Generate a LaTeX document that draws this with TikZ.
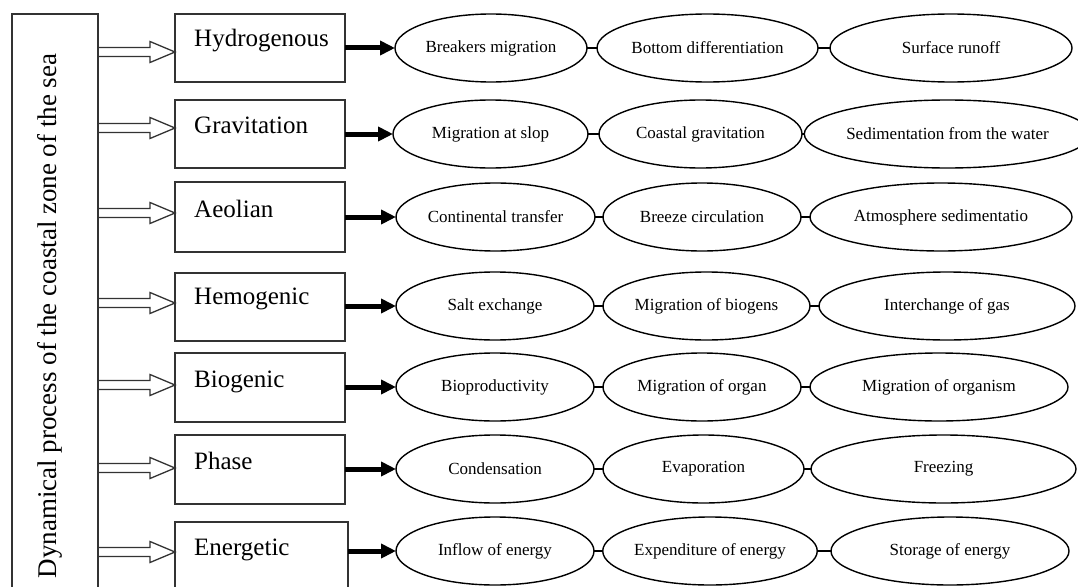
\documentclass[tikz,border=0pt]{standalone}
\usepackage{fontspec}
\setmainfont{Liberation Serif}
\usetikzlibrary{shapes.geometric,arrows.meta,calc}
\tikzset{
  procbox/.style={draw=black!80, line width=1.4pt, anchor=north west, minimum width=170pt, inner sep=0pt, outer sep=0pt},
  boxtext/.style={anchor=base west, font=\fontsize{25}{28}\selectfont, inner sep=0pt},
  oval/.style={ellipse, draw=black, line width=1.4pt, inner sep=0pt, outer sep=0pt, minimum height=68pt, font=\fontsize{17}{20}\selectfont},
  hollow/.style={draw=black!80, line width=1.3pt},
  feed/.style={line width=5pt, -{Triangle[length=15pt,width=14pt]}},
  link/.style={line width=1.2pt}
}
\newcommand\hollowarrow[2]{%
  \draw[hollow] ($(#1)+(0,-4.5)$) -- ($(#2)+(-25,-4.5)$) -- ($(#2)+(-25,-10.5)$) -- (#2)
    -- ($(#2)+(-25,10.5)$) -- ($(#2)+(-25,4.5)$) -- ($(#1)+(0,4.5)$);}
\begin{document}
\begin{tikzpicture}[x=1pt,y=-1pt]
\useasboundingbox (0,0) rectangle (1078,586);
\fill[white] (0,0) rectangle (1078,586);
\clip (0,0) rectangle (1078,586);

% left box
\node[draw=black!80, line width=1.4pt, anchor=north west, minimum width=86pt, minimum height=600pt, inner sep=0pt, outer sep=0pt] (L) at (12,14) {};
\node[rotate=90, anchor=base, inner sep=0pt, font=\fontsize{27}{30}\selectfont] (title) at (56,316) {Dynamical process of the coastal zone of the sea};

% ---- row 1
\node[procbox, minimum height=68pt] (b1) at (175,14) {};
\node[boxtext] (t1) at ([shift={(19,33)}]b1.north west) {Hydrogenous};
\path (b1.north west) ++(0,38) coordinate (b1in);
\path (L.east |- b1in) coordinate (b1out);
\hollowarrow{b1out}{b1in}
\node[oval, minimum width=192pt] (e11) at (491,48) {Breakers migration};
\node[oval, minimum width=221pt] (e12) at (707.5,48) {Bottom differentiation};
\node[oval, minimum width=242pt] (e13) at (951,48) {Surface runoff};
\draw[feed] (b1.east |- e11.west) -- (e11.west);
\draw[link] (e11.east) -- (e12.west);
\draw[link] (e12.east) -- (e13.west);

% ---- row 2
\node[procbox, minimum height=68pt] (b2) at (175,100) {};
\node[boxtext] (t2) at ([shift={(19,33)}]b2.north west) {Gravitation};
\path (b2.north west) ++(0,28) coordinate (b2in);
\path (L.east |- b2in) coordinate (b2out);
\hollowarrow{b2out}{b2in}
\node[oval, minimum width=195pt] (e21) at (490.5,134) {Migration at slop};
\node[oval, minimum width=203pt] (e22) at (700.5,134) {Coastal gravitation};
\node[oval, minimum width=273pt] (e23) at (947.5,134) {Sedimentation from the water};
\draw[feed] (b2.east |- e21.west) -- (e21.west);
\draw[link] (e21.east) -- (e22.west);
\draw[link] (e22.east) -- (e23.west);

% ---- row 3
\node[procbox, minimum height=70pt] (b3) at (175,182) {};
\node[boxtext] (t3) at ([shift={(19,35)}]b3.north west) {Aeolian};
\path (b3.north west) ++(0,31) coordinate (b3in);
\path (L.east |- b3in) coordinate (b3out);
\hollowarrow{b3out}{b3in}
\node[oval, minimum width=199pt] (e31) at (495.5,217) {Continental transfer};
\node[oval, minimum width=198pt] (e32) at (702,217) {Breeze circulation};
\node[oval, minimum width=262pt] (e33) at (941,217) {Atmosphere sedimentatio};
\draw[feed] (b3.east |- e31.west) -- (e31.west);
\draw[link] (e31.east) -- (e32.west);
\draw[link] (e32.east) -- (e33.west);

% ---- row 4
\node[procbox, minimum height=68pt] (b4) at (175,273) {};
\node[boxtext] (t4) at ([shift={(19,31)}]b4.north west) {Hemogenic};
\path (b4.north west) ++(0,30) coordinate (b4in);
\path (L.east |- b4in) coordinate (b4out);
\hollowarrow{b4out}{b4in}
\node[oval, minimum width=198pt] (e41) at (495,306) {Salt exchange};
\node[oval, minimum width=207pt] (e42) at (706.5,306) {Migration of biogens};
\node[oval, minimum width=256pt] (e43) at (947,306) {Interchange of gas};
\draw[feed] (b4.east |- e41.west) -- (e41.west);
\draw[link] (e41.east) -- (e42.west);
\draw[link] (e42.east) -- (e43.west);

% ---- row 5
\node[procbox, minimum height=69pt] (b5) at (175,353) {};
\node[boxtext] (t5) at ([shift={(19,34)}]b5.north west) {Biogenic};
\path (b5.north west) ++(0,32) coordinate (b5in);
\path (L.east |- b5in) coordinate (b5out);
\hollowarrow{b5out}{b5in}
\node[oval, minimum width=198pt] (e51) at (495,387) {Bioproductivity};
\node[oval, minimum width=198pt] (e52) at (702,387) {Migration of organ};
\node[oval, minimum width=258pt] (e53) at (939,387) {Migration of organism};
\draw[feed] (b5.east |- e51.west) -- (e51.west);
\draw[link] (e51.east) -- (e52.west);
\draw[link] (e52.east) -- (e53.west);

% ---- row 6
\node[procbox, minimum height=69pt] (b6) at (175,435) {};
\node[boxtext] (t6) at ([shift={(19,34)}]b6.north west) {Phase};
\path (b6.north west) ++(0,33) coordinate (b6in);
\path (L.east |- b6in) coordinate (b6out);
\hollowarrow{b6out}{b6in}
\node[oval, minimum width=198pt] (e61) at (495,469) {Condensation};
\node[oval, minimum width=201pt] (e62) at (703.5,469) {Evaporation};
\node[oval, minimum width=265pt] (e63) at (943.5,469) {Freezing};
\draw[feed] (b6.east |- e61.west) -- (e61.west);
\draw[link] (e61.east) -- (e62.west);
\draw[link] (e62.east) -- (e63.west);

% ---- row 7
\node[procbox, minimum width=173pt, minimum height=72pt] (b7) at (175,522) {};
\node[boxtext] (t7) at ([shift={(19,33)}]b7.north west) {Energetic};
\path (b7.north west) ++(0,30) coordinate (b7in);
\path (L.east |- b7in) coordinate (b7out);
\hollowarrow{b7out}{b7in}
\node[oval, minimum width=198pt] (e71) at (495,551) {Inflow of energy};
\node[oval, minimum width=214pt] (e72) at (710,551) {Expenditure of energy};
\node[oval, minimum width=238pt] (e73) at (950,551) {Storage of energy};
\draw[feed] (b7.east |- e71.west) -- (e71.west);
\draw[link] (e71.east) -- (e72.west);
\draw[link] (e72.east) -- (e73.west);
\end{tikzpicture}
\end{document}
